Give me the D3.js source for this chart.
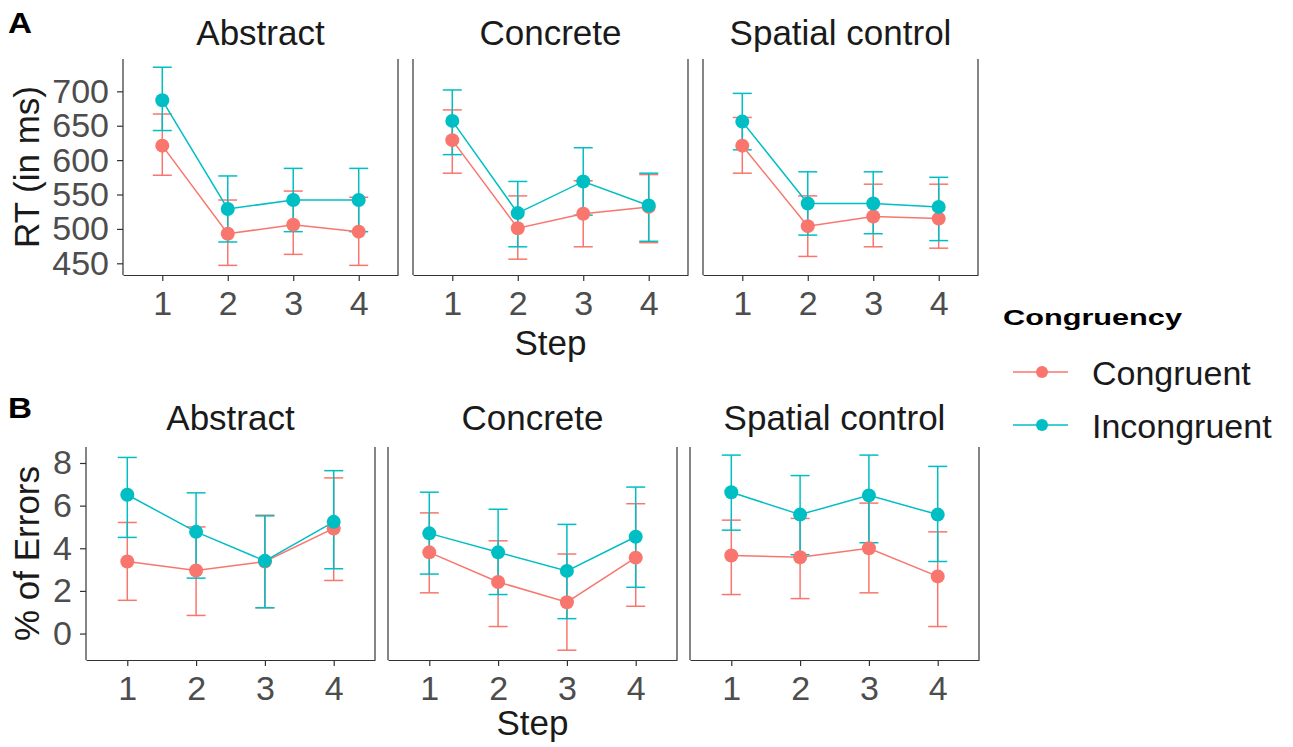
<!DOCTYPE html>
<html>
<head>
<meta charset="utf-8">
<script src="https://cdn.jsdelivr.net/npm/d3@7"></script>
<style>
  body { margin: 0; background: #fff; }
  svg { font-family: "Liberation Sans", Arial, sans-serif; }
  .tick text { fill: #4d4d4d; }
</style>
</head>
<body>
<div id="chart-area"></div>
<script>
// RT and error rates by step, congruency and facet

const steps = [1, 2, 3, 4]
const facets = ["Abstract", "Concrete", "Spatial control"]
const groups = ["Congruent", "Incongruent"]
const colors = ["#F8766D", "#00BFC4"]
const rtTicks = [450, 500, 550, 600, 650, 700]
const errTicks = [0, 2, 4, 6, 8]

// RT (ms), one row per facet
const rtCongMean = [[621, 493, 506, 496], [629, 501, 522, 532], [621, 504, 518, 515]]
const rtCongLo   = [[578, 447, 463, 447], [581, 456, 474, 480], [581, 460, 474, 472]]
const rtCongHi   = [[667, 542, 555, 546], [673, 548, 570, 579], [662, 548, 565, 565]]
const rtIncMean  = [[687, 529, 542, 542], [657, 523, 569, 534], [656, 537, 537, 532]]
const rtIncLo    = [[643, 481, 496, 496], [608, 474, 520, 482], [615, 491, 493, 483]]
const rtIncHi    = [[735, 577, 588, 588], [702, 569, 618, 581], [697, 583, 583, 575]]

// % of errors, one row per facet
const errCongMean = [[3.38, 2.96, 3.38, 4.93], [3.81, 2.42, 1.47, 3.56], [3.66, 3.58, 4.00, 2.68]]
const errCongLo   = [[1.56, 0.85, 1.21, 2.49], [1.91, 0.33, -0.78, 1.28], [1.83, 1.64, 1.91, 0.33]]
const errCongHi   = [[5.21, 5.00, 5.55, 7.30], [5.66, 4.35, 3.73, 6.09], [5.32, 5.40, 6.12, 4.77]]
const errIncMean  = [[6.51, 4.77, 3.41, 5.24], [4.70, 3.81, 2.94, 4.54], [6.63, 5.58, 6.48, 5.58]]
const errIncLo    = [[4.51, 2.60, 1.21, 3.04], [2.79, 1.83, 0.70, 2.17], [4.85, 3.70, 4.26, 3.38]]
const errIncHi    = [[8.26, 6.60, 5.52, 7.64], [6.63, 5.83, 5.12, 6.87], [8.37, 7.41, 8.37, 7.84]]

const W = 1293, H = 747

const svg = d3.select("#chart-area").append("svg")
    .attr("width", W)
    .attr("height", H)

function buildSeries(cm, cl, ch, im, il, ih) {
    return facets.map((f, fi) => groups.map((g, gi) => {
        const m = gi === 0 ? cm : im
        const lo = gi === 0 ? cl : il
        const hi = gi === 0 ? ch : ih
        return steps.map((s, si) => ({step: s, mean: m[fi][si], lo: lo[fi][si], hi: hi[fi][si], group: gi}))
    }))
}

function drawRow(cfg) {
    const y = d3.scaleLinear().domain(cfg.yDomain).range([cfg.bottom, cfg.top])

    // row letter
    svg.append("text")
        .attr("x", 8)
        .attr("y", cfg.letterY)
        .attr("font-size", "30px")
        .attr("font-weight", "bold")
        .attr("textLength", 24)
        .attr("lengthAdjust", "spacingAndGlyphs")
        .text(cfg.letter)

    facets.forEach((f, fi) => {
        const left = cfg.left + fi * (cfg.pw + cfg.gap)
        const x = d3.scaleLinear().domain([0.4, 4.6]).range([left, left + cfg.pw])
        const g = svg.append("g")

        // strip title
        g.append("text")
            .attr("x", left + cfg.pw / 2)
            .attr("y", cfg.stripY)
            .attr("text-anchor", "middle")
            .attr("font-size", "35px")
            .attr("fill", "#1a1a1a")
            .text(f)

        // x axis
        const xAxisCall = d3.axisBottom(x).tickValues(steps).tickFormat(d3.format("d"))
            .tickSize(6).tickSizeOuter(0).tickPadding(10)
        const xg = g.append("g")
            .attr("transform", `translate(0, ${cfg.bottom})`)
            .call(xAxisCall)
        xg.select(".domain").attr("stroke", "#333").attr("stroke-width", 1.2)
        xg.selectAll(".tick line").attr("stroke", "#333").attr("stroke-width", 1.2)
        xg.selectAll(".tick text").attr("font-size", "34px")

        // left axis line
        g.append("line")
            .attr("x1", left).attr("x2", left)
            .attr("y1", cfg.top).attr("y2", cfg.bottom)
            .attr("stroke", "#333").attr("stroke-width", 1.2)
        // right border
        g.append("line")
            .attr("x1", left + cfg.pw).attr("x2", left + cfg.pw)
            .attr("y1", cfg.top).attr("y2", cfg.bottom)
            .attr("stroke", "#333").attr("stroke-width", 1.2)

        if (fi === 0) {
            const yAxisCall = d3.axisLeft(y).tickValues(cfg.ticks).tickSize(6).tickSizeOuter(0).tickPadding(8)
            const yg = g.append("g")
                .attr("transform", `translate(${left}, 0)`)
                .call(yAxisCall)
            yg.select(".domain").remove()
            yg.selectAll(".tick line").attr("stroke", "#333").attr("stroke-width", 1.2)
            yg.selectAll(".tick text").attr("font-size", "34px")
        }

        const series = cfg.series[fi]

        // error bars
        series.forEach(ser => {
            const eb = g.append("g").attr("stroke", colors[ser[0].group]).attr("stroke-width", 1.5)
            ser.forEach(d => {
                eb.append("line").attr("x1", x(d.step)).attr("x2", x(d.step)).attr("y1", y(d.lo)).attr("y2", y(d.hi))
                eb.append("line").attr("x1", x(d.step) - 9.5).attr("x2", x(d.step) + 9.5).attr("y1", y(d.lo)).attr("y2", y(d.lo))
                eb.append("line").attr("x1", x(d.step) - 9.5).attr("x2", x(d.step) + 9.5).attr("y1", y(d.hi)).attr("y2", y(d.hi))
            })
        })

        // lines
        const line = d3.line().x(d => x(d.step)).y(d => y(d.mean))
        series.forEach(ser => {
            g.append("path")
                .datum(ser)
                .attr("d", line)
                .attr("fill", "none")
                .attr("stroke", colors[ser[0].group])
                .attr("stroke-width", 1.5)
        })

        // points
        series.forEach(ser => {
            g.selectAll(null)
                .data(ser)
                .enter().append("circle")
                .attr("cx", d => x(d.step))
                .attr("cy", d => y(d.mean))
                .attr("r", 7)
                .attr("fill", colors[ser[0].group])
        })
    })

    // y axis title
    svg.append("text")
        .attr("transform", `translate(${cfg.yTitleX}, ${(cfg.top + cfg.bottom) / 2}) rotate(-90)`)
        .attr("text-anchor", "middle")
        .attr("font-size", "35px")
        .attr("fill", "#1a1a1a")
        .text(cfg.yTitle)

    // x axis title
    const span = 3 * cfg.pw + 2 * cfg.gap
    svg.append("text")
        .attr("x", cfg.left + span / 2)
        .attr("y", cfg.xTitleY)
        .attr("text-anchor", "middle")
        .attr("font-size", "35px")
        .attr("fill", "#1a1a1a")
        .text("Step")
}

drawRow({
    letter: "A", letterY: 33,
    left: 123, pw: 275, gap: 15, top: 59, bottom: 275,
    yDomain: [433, 747], ticks: rtTicks, stripY: 45, xTitleY: 355,
    yTitle: "RT (in ms)", yTitleX: 39,
    series: buildSeries(rtCongMean, rtCongLo, rtCongHi, rtIncMean, rtIncLo, rtIncHi)
})

drawRow({
    letter: "B", letterY: 418,
    left: 86, pw: 289, gap: 13, top: 447, bottom: 660,
    yDomain: [-1.24, 8.75], ticks: errTicks, stripY: 430, xTitleY: 735,
    yTitle: "% of Errors", yTitleX: 39,
    series: buildSeries(errCongMean, errCongLo, errCongHi, errIncMean, errIncLo, errIncHi)
})

// legend
const legend = svg.append("g")
legend.append("text")
    .attr("x", 1003)
    .attr("y", 325)
    .attr("font-size", "22px")
    .attr("font-weight", "bold")
    .attr("textLength", 179)
    .attr("lengthAdjust", "spacingAndGlyphs")
    .text("Congruency")

groups.forEach((gname, gi) => {
    const cy = 372 + gi * 53
    legend.append("line")
        .attr("x1", 1013).attr("x2", 1068)
        .attr("y1", cy).attr("y2", cy)
        .attr("stroke", colors[gi]).attr("stroke-width", 1.5)
    legend.append("circle")
        .attr("cx", 1042).attr("cy", cy).attr("r", 6)
        .attr("fill", colors[gi])
    legend.append("text")
        .attr("x", 1092)
        .attr("y", cy + 13)
        .attr("font-size", "34px")
        .attr("fill", "#1a1a1a")
        .text(gname)
})
</script>
</body>
</html>
